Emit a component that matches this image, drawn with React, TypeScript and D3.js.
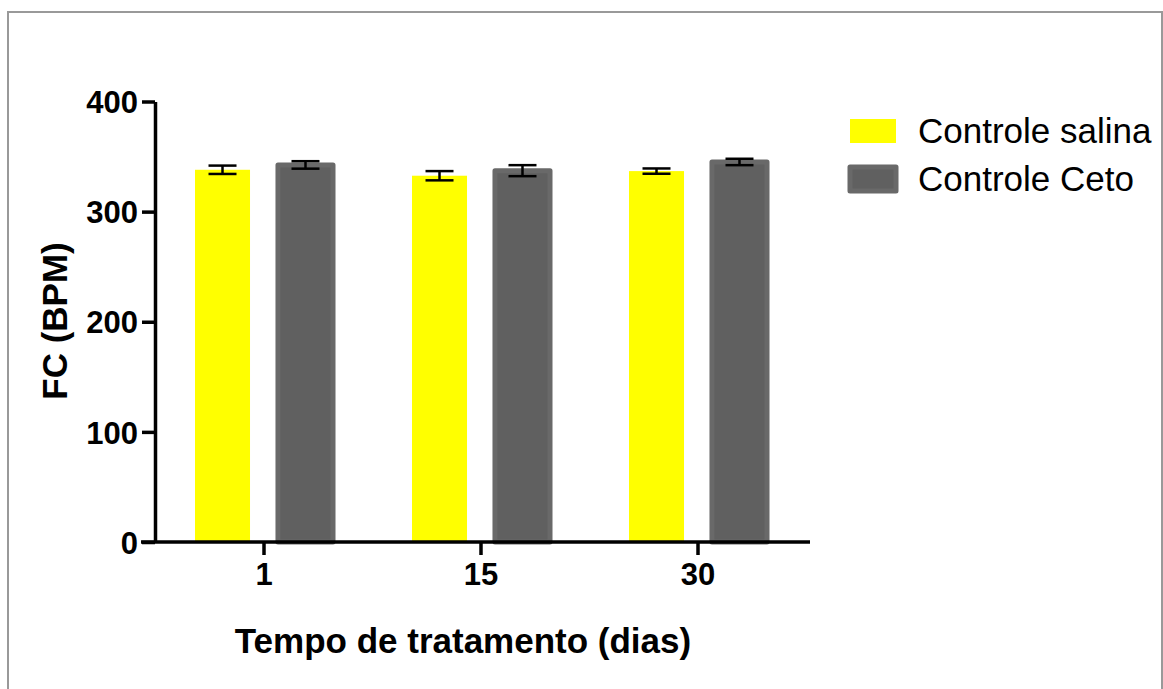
import * as React from "react";
import * as d3 from "d3";

const categories = ["1", "15", "30"];
const seriesNames = ["Controle salina", "Controle Ceto"];
const salinaMean = [338, 332.6, 336.8];
const salinaSem = [3.8, 4.2, 2.4];
const cetoMean = [342.4, 337.2, 345.1];
const cetoSem = [3.4, 5.0, 2.9];
const yTicks = [0, 100, 200, 300, 400];

const font = "'Liberation Sans', Arial, sans-serif";

export default function App() {
  const yAxisRef = React.useRef<SVGGElement>(null);
  const xAxisRef = React.useRef<SVGGElement>(null);

  const width = 1163;
  const height = 689;

  const x = d3.scaleBand().domain(categories).range([155.5, 806.5]).padding(0);
  const sub = d3.scaleBand().domain(seriesNames).range([-69, 69]).paddingInner(0.337);
  const y = d3.scaleLinear().domain([0, 400]).range([542, 101.5]);

  const series = [
    { name: seriesNames[0], mean: salinaMean, sem: salinaSem, fill: "#ffff00", stroke: "none" },
    { name: seriesNames[1], mean: cetoMean, sem: cetoSem, fill: "#606060", stroke: "#696969" },
  ];

  React.useEffect(() => {
    const ya = d3.select(yAxisRef.current!);
    ya.selectAll("*").remove();
    ya.call(d3.axisLeft(y).tickValues(yTicks).tickSize(13).tickSizeOuter(0).tickPadding(4) as any);
    ya.select(".domain").attr("stroke-width", 3.5);
    ya.selectAll(".tick line").attr("stroke-width", 3.5);
    ya.selectAll(".tick text")
      .attr("font-family", font)
      .attr("font-weight", "bold")
      .attr("font-size", 31)
      .attr("fill", "#000")
      .attr("dy", "0.36em");

    const xa = d3.select(xAxisRef.current!);
    xa.selectAll("*").remove();
    xa.call(d3.axisBottom(x).tickSize(13).tickSizeOuter(0).tickPadding(8) as any);
    xa.select(".domain").remove();
    xa.selectAll(".tick line").attr("stroke-width", 3.5);
    xa.selectAll(".tick text")
      .attr("font-family", font)
      .attr("font-weight", "bold")
      .attr("font-size", 31)
      .attr("fill", "#000")
      .attr("dy", "0.72em");
  }, []);

  return (
    <svg
      width={width}
      height={height}
      style={{ position: "absolute", left: 0, top: 0, background: "#fff" }}
    >
      <rect x={8} y={12} width={1154} height={700} fill="#fff" stroke="#999" strokeWidth={2} />

      {series.map((s) =>
        categories.map((c, i) => {
          const bx = x(c)! + x.bandwidth() / 2 + sub(s.name)!;
          const bw = sub.bandwidth();
          return (
            <rect
              key={s.name + c}
              x={bx}
              y={y(s.mean[i])}
              width={bw}
              height={y(0) - y(s.mean[i])}
              fill={s.fill}
              stroke={s.stroke}
              strokeWidth={s.stroke === "none" ? 0 : 5}
              strokeLinejoin="round"
            />
          );
        })
      )}

      {series.map((s) =>
        categories.map((c, i) => {
          const cx = x(c)! + x.bandwidth() / 2 + sub(s.name)! + sub.bandwidth() / 2;
          const top = y(s.mean[i] + s.sem[i]);
          const bot = y(s.mean[i] - s.sem[i]);
          const cap = 14;
          return (
            <g key={"e" + s.name + c} stroke="#000" strokeWidth={2.5}>
              <line x1={cx} x2={cx} y1={top} y2={bot} />
              <line x1={cx - cap} x2={cx + cap} y1={top} y2={top} />
              <line x1={cx - cap} x2={cx + cap} y1={bot} y2={bot} />
            </g>
          );
        })
      )}

      <line x1={141} x2={810} y1={y(0)} y2={y(0)} stroke="#000" strokeWidth={3.5} />
      <g ref={xAxisRef} transform={`translate(0,${y(0)})`} />
      <g ref={yAxisRef} transform="translate(155,0)" />

      <text
        x={463}
        y={653}
        textAnchor="middle"
        fontFamily={font}
        fontWeight="bold"
        fontSize={35}
      >
        Tempo de tratamento (dias)
      </text>
      <text
        transform="translate(67,321) rotate(-90)"
        textAnchor="middle"
        fontFamily={font}
        fontWeight="bold"
        fontSize={35}
      >
        FC (BPM)
      </text>

      {series.map((s, i) => (
        <g key={"l" + s.name} transform={`translate(850,${119 + i * 48})`}>
          <rect
            width={46}
            height={24}
            fill={s.fill}
            stroke={s.stroke}
            strokeWidth={s.stroke === "none" ? 0 : 5}
            strokeLinejoin="round"
          />
          <text x={68} y={24} fontFamily={font} fontSize={35} fill="#000">
            {s.name}
          </text>
        </g>
      ))}
    </svg>
  );
}
